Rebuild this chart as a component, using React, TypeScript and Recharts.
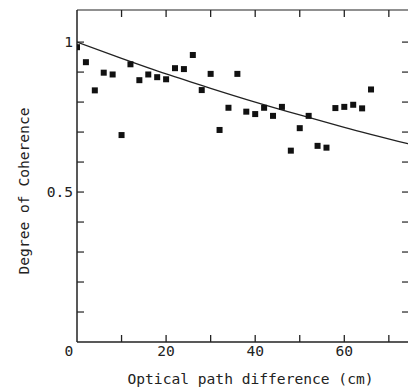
import { ComposedChart, Scatter, Line, XAxis, YAxis } from 'recharts';

// optical path difference (cm) of each measurement
const pathDiff = [
  0, 2, 4, 6, 8, 10, 12, 14, 16, 18, 20, 22, 24, 26, 28, 30, 32,
  34, 36, 38, 40, 42, 44, 46, 48, 50, 52, 54, 56, 58, 60, 62, 64, 66,
];
// measured degree of coherence
const coherence = [
  0.983, 0.933, 0.839, 0.898, 0.892, 0.69, 0.926, 0.873, 0.892, 0.883, 0.876, 0.913,
  0.91, 0.957, 0.84, 0.894, 0.707, 0.781, 0.894, 0.768, 0.76, 0.781, 0.754, 0.784,
  0.638, 0.713, 0.754, 0.654, 0.648, 0.78, 0.784, 0.791, 0.779, 0.842,
];
// fitted curve
const fitX = [0, 10, 20, 30, 40, 50, 60, 74.3];
const fitY = [1.0, 0.946, 0.894, 0.846, 0.8, 0.757, 0.716, 0.661];

const xTicksMinor = [10, 20, 30, 40, 50, 60, 70];
const xTickLabels = [0, 20, 40, 60];
const yTicksMinor = [0.1, 0.2, 0.3, 0.4, 0.5, 0.6, 0.7, 0.8, 0.9, 1.0];
const yTickLabels = [0.5, 1];

const points = pathDiff.map((x, i) => ({ x, y: coherence[i] }));
const fit = fitX.map((x, i) => ({ x, y: fitY[i] }));

const X_DOMAIN: [number, number] = [0, 74.3];
const Y_DOMAIN: [number, number] = [0, 1.107];
const FONT = '"DejaVu Sans Mono", monospace';
const INK = '#222';

const Square = (props: any) => {
  const { cx, cy } = props;
  return <rect x={cx - 3} y={cy - 3} width={6} height={6} fill="#111" />;
};

const XTick = (props: any) => {
  const { x, y, payload } = props;
  return (
    <text
      x={payload.value === 0 ? x - 8 : x}
      y={y}
      dy="0.71em"
      textAnchor="middle"
      fontFamily={FONT}
      fontSize={14.6}
      fill={INK}
    >
      {payload.value}
    </text>
  );
};

const noTick = () => null;

export default function App() {
  return (
    <div style={{ position: 'absolute', left: 0, top: 0, background: '#fff' }}>
      <ComposedChart width={408} height={392} margin={{ top: 10, right: 0, bottom: 0, left: 0 }}>
        {/* bottom axis: line and inward ticks */}
        <XAxis
          xAxisId="b"
          type="number"
          dataKey="x"
          domain={X_DOMAIN}
          allowDataOverflow
          ticks={xTicksMinor}
          interval={0}
          height={10}
          mirror
          tickSize={7}
          tick={noTick}
          axisLine={{ stroke: INK, strokeWidth: 1.5 }}
          tickLine={{ stroke: INK, strokeWidth: 1.3 }}
        />
        {/* bottom axis: labels */}
        <XAxis
          xAxisId="lab"
          type="number"
          dataKey="x"
          domain={X_DOMAIN}
          allowDataOverflow
          ticks={xTickLabels}
          interval={0}
          height={50}
          axisLine={false}
          tickLine={false}
          tickSize={0}
          tickMargin={4}
          tick={XTick}
          label={{
            content: (p: any) => (
              <text
                x={p.viewBox.x + p.viewBox.width / 2 + 8}
                y={p.viewBox.y + 42}
                textAnchor="middle"
                fontFamily={FONT}
                fontSize={14.6}
                fill={INK}
              >
                Optical path difference (cm)
              </text>
            ),
          }}
        />
        <XAxis
          xAxisId="top"
          orientation="top"
          type="number"
          dataKey="x"
          domain={X_DOMAIN}
          allowDataOverflow
          ticks={xTicksMinor}
          interval={0}
          height={10}
          mirror
          tickSize={7}
          tick={noTick}
          axisLine={{ stroke: INK, strokeWidth: 1.2 }}
          tickLine={{ stroke: INK, strokeWidth: 1.3 }}
        />
        {/* left axis: line and inward ticks */}
        <YAxis
          yAxisId="l"
          type="number"
          domain={Y_DOMAIN}
          allowDataOverflow
          ticks={yTicksMinor}
          interval={0}
          width={10}
          mirror
          tickSize={7}
          tick={noTick}
          axisLine={{ stroke: INK, strokeWidth: 1.5 }}
          tickLine={{ stroke: INK, strokeWidth: 1.2 }}
        />
        {/* left axis: labels */}
        <YAxis
          yAxisId="lab"
          type="number"
          domain={Y_DOMAIN}
          allowDataOverflow
          ticks={yTickLabels}
          interval={0}
          width={77}
          axisLine={false}
          tickLine={false}
          tickSize={4}
          tickMargin={0}
          tick={{ fontFamily: FONT, fontSize: 14.6, fill: INK }}
          label={{
            content: (p: any) => {
              const cx = p.viewBox.x + 23;
              const cy = p.viewBox.y + p.viewBox.height / 2 + 15;
              return (
                <text
                  x={cx}
                  y={cy}
                  transform={`rotate(-90 ${cx} ${cy})`}
                  textAnchor="middle"
                  dominantBaseline="central"
                  fontFamily={FONT}
                  fontSize={14.6}
                  fill={INK}
                >
                  Degree of Coherence
                </text>
              );
            },
          }}
        />
        <YAxis
          yAxisId="r"
          orientation="right"
          type="number"
          domain={Y_DOMAIN}
          allowDataOverflow
          ticks={yTicksMinor}
          interval={0}
          width={10}
          mirror
          tickSize={6}
          tick={noTick}
          axisLine={false}
          tickLine={{ stroke: INK, strokeWidth: 1.2 }}
        />
        <Line
          xAxisId="lab"
          yAxisId="lab"
          data={fit}
          dataKey="y"
          type="monotone"
          stroke={INK}
          strokeWidth={1.3}
          dot={false}
          isAnimationActive={false}
        />
        <Scatter
          xAxisId="lab"
          yAxisId="lab"
          data={points}
          dataKey="y"
          shape={Square}
          isAnimationActive={false}
        />
      </ComposedChart>
    </div>
  );
}
